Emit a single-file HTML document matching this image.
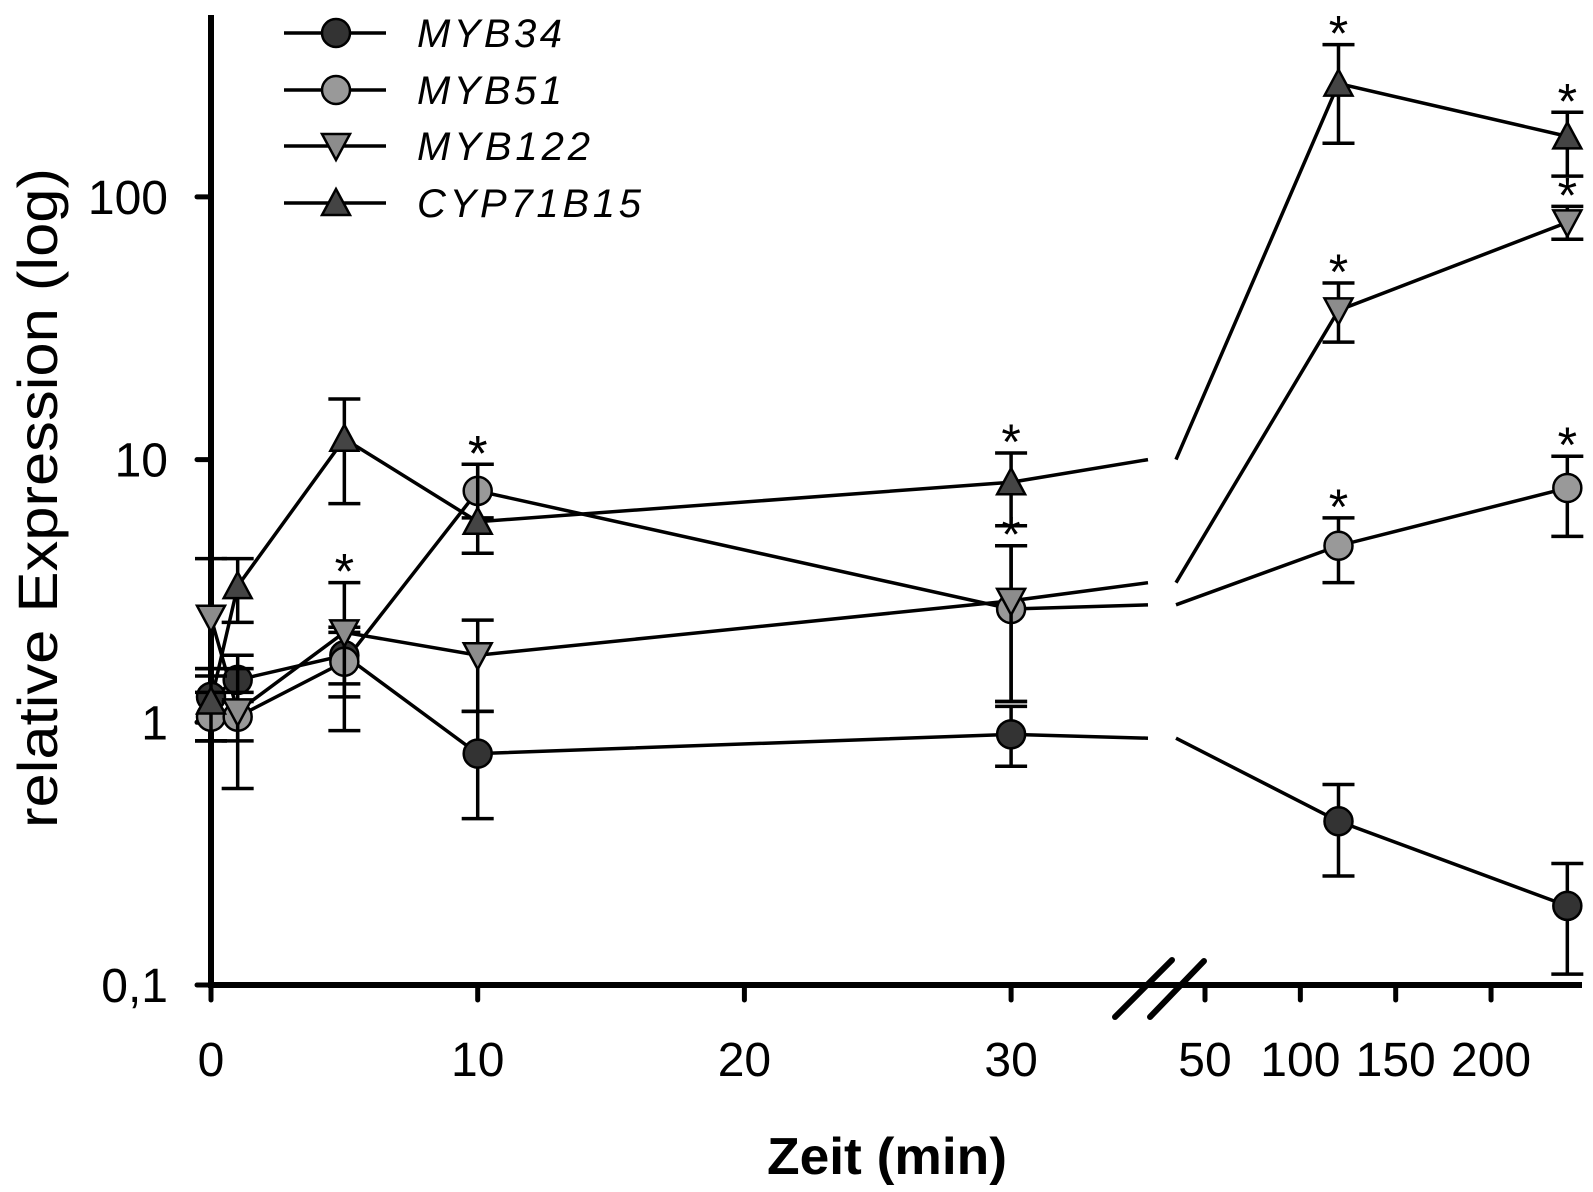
<!DOCTYPE html>
<html><head><meta charset="utf-8"><style>
html,body{margin:0;padding:0;background:#fff;}
svg{display:block;font-family:"Liberation Sans",sans-serif;}
</style></head><body>
<svg id="chart" width="1593" height="1192" viewBox="0 0 1593 1192">
<g id="axes"></g>
<g id="series"></g>
<g id="legend"></g>
</svg>
<script>
const times = [0, 1, 5, 10, 30, 120, 240];
const seriesNames = ["MYB34", "MYB51", "MYB122", "CYP71B15"];
const myb34 = [1.25, 1.45, 1.8, 0.76, 0.9, 0.42, 0.2];
const myb34Hi = [1.6, 1.8, 2.2, 1.1, 1.15, 0.58, 0.29];
const myb34Lo = [0.85, 1.2, 1.4, 0.43, 0.68, 0.26, 0.11];
const myb51 = [1.05, 1.05, 1.7, 7.6, 2.7, 4.7, 7.8];
const myb51Hi = [1.3, 1.3, 2.3, 9.6, 4.7, 6.0, 10.3];
const myb51Lo = [0.85, 0.85, 1.25, 6.0, 1.2, 3.4, 5.1];
const myb122 = [2.5, 1.1, 2.2, 1.8, 2.9, 37, 80];
const myb122Hi = [4.2, 1.6, 3.4, 2.45, 4.7, 47, 92];
const myb122Lo = [1.5, 0.56, 0.93, 1.1, 1.2, 28, 69];
const cyp = [1.2, 3.3, 12, 5.8, 8.2, 270, 170];
const cypHi = [1.6, 4.2, 17, 9.6, 10.6, 380, 210];
const cypLo = [0.85, 2.4, 6.8, 4.4, 5.6, 160, 120];
const breakVals = [0.87, 2.8, 3.4, 10];
const myb34Star = [0,0,0,0,0,0,0];
const myb51Star = [0,0,0,1,0,1,1];
const myb122Star = [0,0,1,0,1,1,1];
const cypStar = [0,0,0,1,1,1,1];
const yTicks = [0.1, 1, 10, 100];
const yTickLabels = ["0,1", "1", "10", "100"];
const xTicksA = [0, 10, 20, 30];
const xTicksB = [50, 100, 150, 200];

const NS = "http://www.w3.org/2000/svg";
function mk(parent, tag, attrs) { const e = document.createElementNS(NS, tag); for (const k in attrs) e.setAttribute(k, attrs[k]); parent.appendChild(e); return e; }
function y(v) { return 985 - (Math.log10(v) + 1) * 262.7; }
function x(t) { return t <= 40 ? 211 + t * 26.67 : 1205 + (t - 50) * 1.907; }
const BREAK_L = 1148, BREAK_R = 1176;

const axes = document.getElementById('axes');
let e;
e = mk(axes, 'line', {x1:211, y1:15, x2:211, y2:988, stroke:'#000','stroke-width':6});
 
e = mk(axes, 'line', {x1:208, y1:985, x2:1582, y2:985, stroke:'#000','stroke-width':6});
 
yTicks.forEach((v, i) => {
  e = mk(axes, 'line', {x1:197, y1:y(v), x2:211, y2:y(v), stroke:'#000','stroke-width':5,'stroke-linecap':'round'});
   
  e = mk(axes, 'text', {x:168, y:y(v)+17, 'text-anchor':'end','font-size':48});
  e.textContent = yTickLabels[i];
   
});
xTicksA.concat(xTicksB).forEach(t => {
  e = mk(axes, 'line', {x1:x(t), y1:985, x2:x(t), y2:1000, stroke:'#000','stroke-width':5,'stroke-linecap':'round'});
   
  e = mk(axes, 'text', {x:x(t), y:1076, 'text-anchor':'middle','font-size':48});
  e.textContent = t;
   
});
[[1115,1017,1172,960],[1150,1017,1204,961]].forEach(b => {
  e = mk(axes, 'line', {x1:b[0], y1:b[1], x2:b[2], y2:b[3], stroke:'#000','stroke-width':6,'stroke-linecap':'round'});
   
});
e = mk(axes, 'text', {x:887, y:1174, 'text-anchor':'middle','font-size':52,'font-weight':'bold', textLength:240, lengthAdjust:'spacingAndGlyphs'});
e.textContent = 'Zeit (min)';
 
e = mk(axes, 'text', {x:0, y:0, 'text-anchor':'middle','font-size':56, textLength:660, lengthAdjust:'spacingAndGlyphs', transform:'translate(57,498) rotate(-90)'});
e.textContent = 'relative Expression (log)';
 

const styles = [
  {shape:'circle', fill:'#333'},
  {shape:'circle', fill:'#999'},
  {shape:'down', fill:'#8c8c8c'},
  {shape:'up', fill:'#444'}
];
function marker(g, shape, fill, cx, cy) {
  let m;
  if (shape === 'circle') m = mk(g, 'circle', {cx:cx, cy:cy, r:14, fill:fill, stroke:'#000','stroke-width':2.5});
  else if (shape === 'down') m = mk(g, 'polygon', {points:`${cx-14},${cy-12} ${cx+14},${cy-12} ${cx},${cy+14}`, fill:fill, stroke:'#000','stroke-width':2.5});
  else m = mk(g, 'polygon', {points:`${cx-14},${cy+12} ${cx+14},${cy+12} ${cx},${cy-14}`, fill:fill, stroke:'#000','stroke-width':2.5});
  return m;
}
const allVals = [myb34, myb51, myb122, cyp];
const allHi = [myb34Hi, myb51Hi, myb122Hi, cypHi];
const allLo = [myb34Lo, myb51Lo, myb122Lo, cypLo];
const allStar = [myb34Star, myb51Star, myb122Star, cypStar];
const seriesG = document.getElementById('series');
allVals.forEach((vals, s) => {
  const g = mk(seriesG, 'g', {});
   
  let d = '';
  for (let i = 0; i < vals.length; i++) {
    const cmd = i === 0 ? 'M' : 'L';
    if (i > 0 && times[i] > 40 && times[i-1] <= 40) {
      d += `L${BREAK_L},${y(breakVals[s])} M${BREAK_R},${y(breakVals[s])} L${x(times[i])},${y(vals[i])} `;
    } else d += `${cmd}${x(times[i])},${y(vals[i])} `;
  }
  mk(g, 'path', {d:d, fill:'none', stroke:'#000','stroke-width':3.5});
});
allVals.forEach((vals, s) => {
  const g = mk(seriesG, 'g', {});
   
  vals.forEach((v, i) => {
    const cx = x(times[i]), hi = y(allHi[s][i]), lo = y(allLo[s][i]);
    const eb = mk(g, 'path', {d:`M${cx},${hi} L${cx},${lo} M${cx-16},${hi} L${cx+16},${hi} M${cx-16},${lo} L${cx+16},${lo}`, stroke:'#000','stroke-width':3.5, fill:'none'});
     
    const m = marker(g, styles[s].shape, styles[s].fill, cx, y(v));
     
    if (allStar[s][i]) {
      const st = mk(g, 'text', {x:cx, y:hi + 6, 'text-anchor':'middle','font-size':50});
      st.textContent = '*';
       
    }
  });
});
const legend = document.getElementById('legend');
const legendWidths = [145, 145, 173, 224];
const legendY = [33, 90, 146, 203];
seriesNames.forEach((n, s) => {
  const ly = legendY[s];
  const g = mk(legend, 'g', {});
   
  mk(g, 'line', {x1:284, y1:ly, x2:386, y2:ly, stroke:'#000','stroke-width':3.5});
  marker(g, styles[s].shape, styles[s].fill, 336, ly);
  const t = mk(g, 'text', {x:417, y:ly+14, 'font-size':40,'font-style':'italic', textLength:legendWidths[s], lengthAdjust:'spacing'});
  t.textContent = n;
});
</script>
</body></html>
